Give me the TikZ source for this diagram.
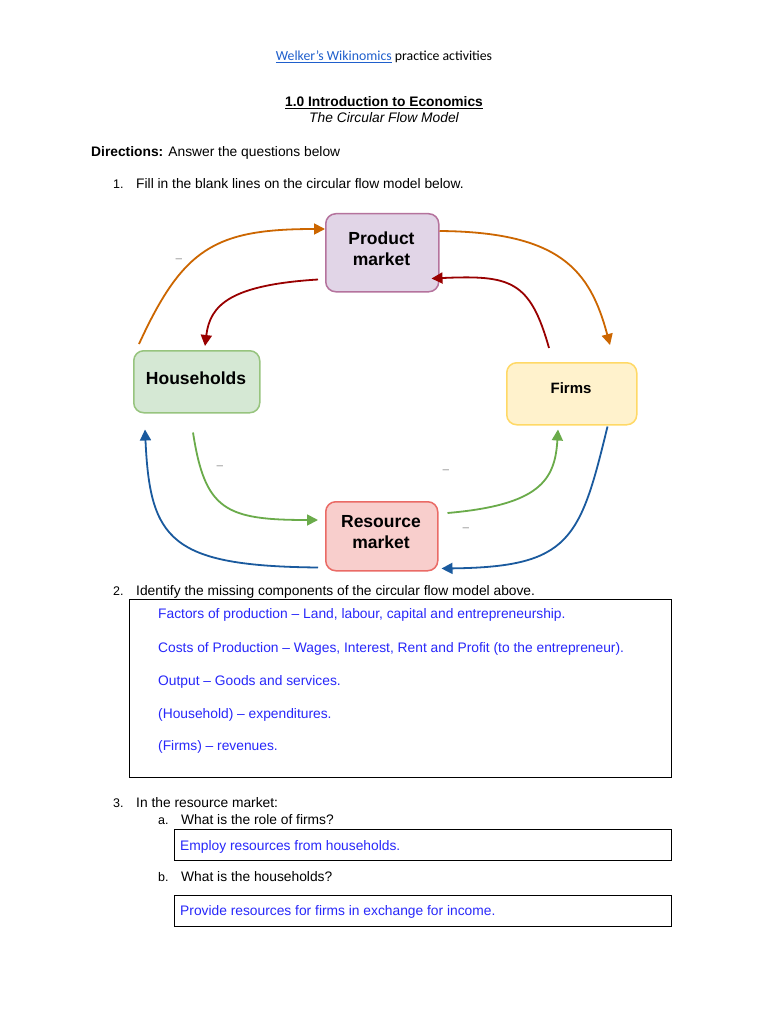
\documentclass[tikz,border=0pt]{standalone}
\usepackage{fontspec}
\setmainfont{Liberation Sans}
\newfontfamily\calibri{Carlito}
\usetikzlibrary{arrows.meta,calc}
\definecolor{linkblue}{HTML}{1F5FCC}
\definecolor{ansblue}{RGB}{40,40,250}
\definecolor{pmfill}{HTML}{E1D5E7}
\definecolor{pmdraw}{HTML}{B5739D}
\definecolor{hhfill}{HTML}{D5E8D4}
\definecolor{hhdraw}{HTML}{97C47E}
\definecolor{ffill}{HTML}{FFF2CC}
\definecolor{fdraw}{HTML}{FFD966}
\definecolor{rmfill}{HTML}{F8CECC}
\definecolor{rmdraw}{HTML}{EA6B66}
\definecolor{corange}{HTML}{CC6600}
\definecolor{cred}{HTML}{990000}
\definecolor{cgreen}{HTML}{6AAB4A}
\definecolor{cblue}{HTML}{1A5A9E}
\tikzset{
  body/.style={anchor=base west,inner sep=0pt,font=\fontsize{13.8}{16}\selectfont},
  ctr/.style={anchor=base,inner sep=0pt,font=\fontsize{13.8}{16}\selectfont},
  ans/.style={body,text=ansblue},
  num/.style={anchor=base west,inner sep=0pt,font=\fontsize{12.5}{15}\selectfont},
  mbox/.style={draw,rounded corners=10pt,line width=1.5pt,inner sep=0pt,anchor=north west},
  mtext/.style={inner sep=0pt,anchor=base,font=\fontsize{17.5}{20.5}\selectfont\bfseries,align=center},
  flow/.style={line width=1.8pt,-{Triangle[length=11pt,width=11pt]}},
  blank/.style={inner sep=0pt,text=gray,font=\fontsize{11}{12}\selectfont},
  abox/.style={draw,line width=0.9pt,inner sep=0pt,anchor=north west}
}
\begin{document}
\begin{tikzpicture}[x=1pt,y=-1pt]
\useasboundingbox[fill=white] (0,0) rectangle (768,1024);
% header
\node[ctr,font=\calibri\fontsize{13.8}{16}\selectfont] (head) at (384,61) {\textcolor{linkblue}{\underline{Welker’s Wikinomics}} practice activities};
\node[ctr,font=\fontsize{13.8}{16}\selectfont\bfseries] (title) at (384,107) {\underline{1.0 Introduction to Economics}};
\node[ctr,font=\fontsize{13.8}{16}\selectfont\itshape] (sub) at (384,123) {The Circular Flow Model};
\node[body] (dir) at (91,157) {\textbf{Directions:} Answer the questions below};
\node[num] (n1) at (113,189) {1.};
\node[body] (q1) at (136,189) {Fill in the blank lines on the circular flow model below.};
% boxes
\node[mbox,fill=pmfill,draw=pmdraw,minimum width=113pt,minimum height=78pt] (pm) at (325,213) {};
\node[mbox,fill=hhfill,draw=hhdraw,minimum width=126pt,minimum height=62pt] (hh) at (133,350) {};
\node[mbox,fill=ffill,draw=fdraw,minimum width=130pt,minimum height=62pt] (fi) at (506,362) {};
\node[mbox,fill=rmfill,draw=rmdraw,minimum width=112pt,minimum height=69pt] (rm) at (325,501) {};
\node[mtext] (pmt1) at (381.5,244) {Product};
\node[mtext] (pmt2) at (381.5,265) {market};
\node[mtext] (hht) at (196,384) {Households};
\node[mtext,font=\fontsize{15}{18}\selectfont\bfseries] (fit) at (571,393) {Firms};
\node[mtext] (rmt1) at (381,527) {Resource};
\node[mtext] (rmt2) at (381,548) {market};
% blanks
\node[blank] (b1) at (179,259) {\_};
\node[blank] (b2) at (220,466) {\_};
\node[blank] (b3) at (446,470) {\_};
\node[blank] (b4) at (466,528) {\_};
% flows
\draw[flow,corange] ([shift={(6,-6)}]hh.north west) .. controls (183,248) and (215,229) .. ([shift={(0,16)}]pm.north west);
\draw[flow,corange] ([shift={(0,18)}]pm.north east) .. controls (560,232) and (590,270) .. ([shift={(104,-17)}]fi.north west);
\draw[flow,cred] ([shift={(-7,-13)}]pm.south west) .. controls (230,285) and (210,305) .. ([shift={(72,-4)}]hh.north west);
\draw[flow,cred] ([shift={(43,-14)}]fi.north west) .. controls (530,280) and (510,275) .. ([shift={(-8,-14)}]pm.south east);
\draw[flow,cgreen] ([shift={(60,19)}]hh.south west) .. controls (205,510) and (225,520) .. ([shift={(-7,19)}]rm.north west);
\draw[flow,cgreen] ([shift={(9,12)}]rm.north east) .. controls (540,505) and (555,480) .. ([shift={(52,4)}]fi.south west);
\draw[flow,cblue] ([shift={(-7,-4)}]rm.south west) .. controls (170,566) and (150,540) .. ([shift={(12,16)}]hh.south west);
\draw[flow,cblue] ([shift={(-30,1)}]fi.south east) .. controls (580,540) and (570,567) .. ([shift={(3,-3)}]rm.south east);
% question 2
\node[num] (n2) at (113,595) {2.};
\node[body] (q2) at (136,595) {Identify the missing components of the circular flow model above.};
\node[abox,minimum width=542pt,minimum height=178pt] (box2) at (129,599) {};
\node[ans] (a1) at (158,618) {Factors of production – Land, labour, capital and entrepreneurship.};
\node[ans] (a2) at (158,652) {Costs of Production – Wages, Interest, Rent and Profit (to the entrepreneur).};
\node[ans] (a3) at (158,685) {Output – Goods and services.};
\node[ans] (a4) at (158,718) {(Household) – expenditures.};
\node[ans] (a5) at (158,750) {(Firms) – revenues.};
% question 3
\node[num] (n3) at (113,807) {3.};
\node[body] (q3) at (136,807) {In the resource market:};
\node[num] (na) at (158,824) {a.};
\node[body] (qa) at (181,824) {What is the role of firms?};
\node[abox,minimum width=497pt,minimum height=31pt] (boxa) at (174,829) {};
\node[ans] (aa) at (180,850) {Employ resources from households.};
\node[num] (nb) at (158,881) {b.};
\node[body] (qb) at (181,881) {What is the households?};
\node[abox,minimum width=497pt,minimum height=31pt] (boxb) at (174,895) {};
\node[ans] (ab) at (180,915) {Provide resources for firms in exchange for income.};
\end{tikzpicture}
\end{document}
